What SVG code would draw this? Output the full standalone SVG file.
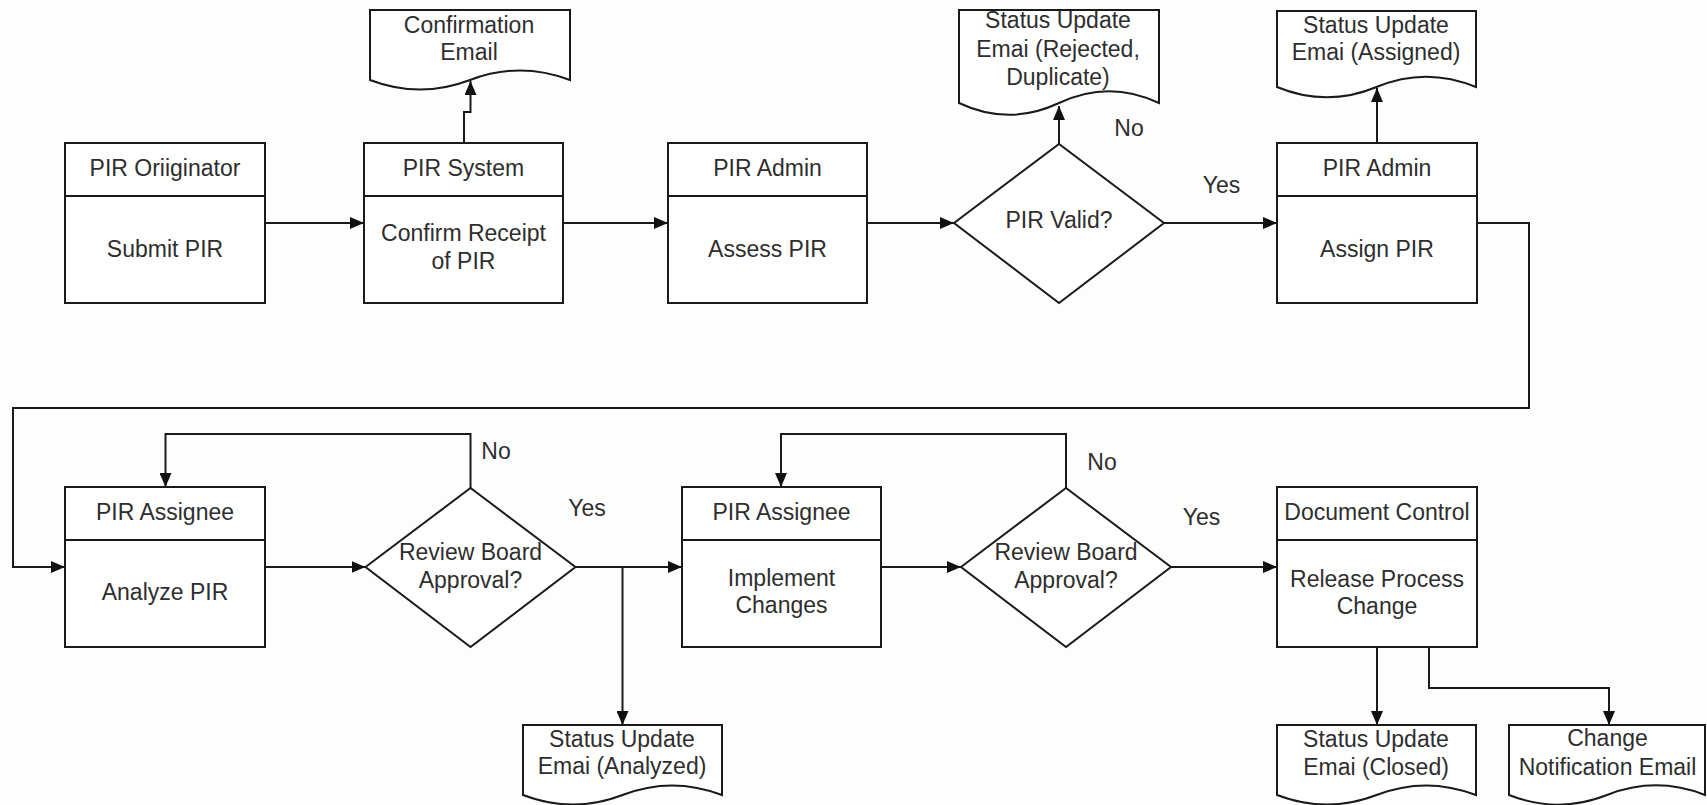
<svg xmlns="http://www.w3.org/2000/svg" width="1707" height="805" viewBox="0 0 1707 805">
<style>
.shape{fill:#ffffff;stroke:#1a1a1a;stroke-width:2}
.conn{fill:none;stroke:#1a1a1a;stroke-width:2;marker-end:url(#arrow)}
.line{fill:none;stroke:#1a1a1a;stroke-width:2}
text{font-family:"Liberation Sans",Arial,sans-serif;font-size:23px;fill:#2e2e2e;text-anchor:middle}
</style>
<defs>
<marker id="arrow" markerUnits="userSpaceOnUse" markerWidth="14" markerHeight="12" refX="14" refY="6" orient="auto">
<path d="M0,0 L14,6 L0,12 Z" fill="#111"/>
</marker>
</defs>
<rect width="1707" height="805" fill="#fdfdfd"/>

<g id="connectors">
<path class="conn" d="M265,223 H364"/>
<path class="conn" d="M563,223 H668"/>
<path class="conn" d="M867,223 H954"/>
<path class="conn" d="M1164,223 H1277"/>
<path class="conn" d="M1059,144 V106"/>
<path class="conn" d="M464,143 V112 H470.5 V81"/>
<path class="conn" d="M1377,143 V88"/>
<path class="conn" d="M1477,223 H1529 V408 H13 V567 H65"/>
<path class="conn" d="M265,567 H365.5"/>
<path class="conn" d="M470.5,488 V434 H165.5 V487"/>
<path class="conn" d="M575.5,567 H682"/>
<path class="conn" d="M622.5,567 V725"/>
<path class="conn" d="M881,567 H961"/>
<path class="conn" d="M1066,488 V434 H781 V487"/>
<path class="conn" d="M1171,567 H1277"/>
<path class="conn" d="M1377,647 V725"/>
<path class="conn" d="M1429,647 V688 H1609 V725"/>
</g>

<g id="originator">
<rect class="shape" x="65" y="143" width="200" height="160"/>
<line class="line" x1="65" y1="196" x2="265" y2="196"/>
<text x="165" y="176">PIR Oriiginator</text>
<text x="165" y="257">Submit PIR</text>
</g>

<g id="system">
<rect class="shape" x="364" y="143" width="199" height="160"/>
<line class="line" x1="364" y1="196" x2="563" y2="196"/>
<text x="463.5" y="176">PIR System</text>
<text x="463.5" y="241">Confirm Receipt</text>
<text x="463.5" y="269">of PIR</text>
</g>

<g id="confirmation-email">
<path class="shape" d="M370,10 H570 V80 C536,67 504,67 470,80 S404,93 370,80 Z"/>
<text x="469" y="33">Confirmation</text>
<text x="469" y="60">Email</text>
</g>

<g id="admin-assess">
<rect class="shape" x="668" y="143" width="199" height="160"/>
<line class="line" x1="668" y1="196" x2="867" y2="196"/>
<text x="767.5" y="176">PIR Admin</text>
<text x="767.5" y="257">Assess PIR</text>
</g>

<g id="valid-decision">
<polygon class="shape" points="954,223 1059,144 1164,223 1059,303"/>
<text x="1059" y="228">PIR Valid?</text>
</g>

<g id="rejected-email">
<path class="shape" d="M959,10 H1159 V103 C1125,87 1093,87 1059,103 S993,119 959,103 Z"/>
<text x="1058" y="28">Status Update</text>
<text x="1058" y="57">Emai (Rejected,</text>
<text x="1058" y="85">Duplicate)</text>
</g>

<g id="admin-assign">
<rect class="shape" x="1277" y="143" width="200" height="160"/>
<line class="line" x1="1277" y1="196" x2="1477" y2="196"/>
<text x="1377" y="176">PIR Admin</text>
<text x="1377" y="257">Assign PIR</text>
</g>

<g id="assigned-email">
<path class="shape" d="M1277,11 H1476 V87 C1442,73 1410,73 1376.5,87 S1311,101 1277,87 Z"/>
<text x="1376" y="33">Status Update</text>
<text x="1376" y="60">Emai (Assigned)</text>
</g>

<g id="assignee-analyze">
<rect class="shape" x="65" y="487" width="200" height="160"/>
<line class="line" x1="65" y1="540" x2="265" y2="540"/>
<text x="165" y="520">PIR Assignee</text>
<text x="165" y="600">Analyze PIR</text>
</g>

<g id="review-decision-1">
<polygon class="shape" points="365.5,567 470.5,488 575.5,567 470.5,647"/>
<text x="470.5" y="560">Review Board</text>
<text x="470.5" y="588">Approval?</text>
</g>

<g id="analyzed-email">
<path class="shape" d="M523,725 H722 V795 C688,782 656,782 622.5,795 S557,808 523,795 Z"/>
<text x="622" y="747">Status Update</text>
<text x="622" y="774">Emai (Analyzed)</text>
</g>

<g id="assignee-implement">
<rect class="shape" x="682" y="487" width="199" height="160"/>
<line class="line" x1="682" y1="540" x2="881" y2="540"/>
<text x="781.5" y="520">PIR Assignee</text>
<text x="781.5" y="586">Implement</text>
<text x="781.5" y="613">Changes</text>
</g>

<g id="review-decision-2">
<polygon class="shape" points="961,567 1066,488 1171,567 1066,647"/>
<text x="1066" y="560">Review Board</text>
<text x="1066" y="588">Approval?</text>
</g>

<g id="document-control">
<rect class="shape" x="1277" y="487" width="200" height="160"/>
<line class="line" x1="1277" y1="540" x2="1477" y2="540"/>
<text x="1377" y="520">Document Control</text>
<text x="1377" y="587">Release Process</text>
<text x="1377" y="614">Change</text>
</g>

<g id="closed-email">
<path class="shape" d="M1277,725 H1476 V795 C1442,782 1410,782 1376.5,795 S1311,808 1277,795 Z"/>
<text x="1376" y="747">Status Update</text>
<text x="1376" y="775">Emai (Closed)</text>
</g>

<g id="change-notification-email">
<path class="shape" d="M1509,725 H1705 V795 C1672,782 1640,782 1607,795 S1542,808 1509,795 Z"/>
<text x="1607.5" y="746">Change</text>
<text x="1607.5" y="775">Notification Email</text>
</g>

<g id="labels">
<text x="1129" y="136">No</text>
<text x="1221.5" y="193">Yes</text>
<text x="496" y="459">No</text>
<text x="587" y="516">Yes</text>
<text x="1102" y="470">No</text>
<text x="1201.5" y="525">Yes</text>
</g>
</svg>
